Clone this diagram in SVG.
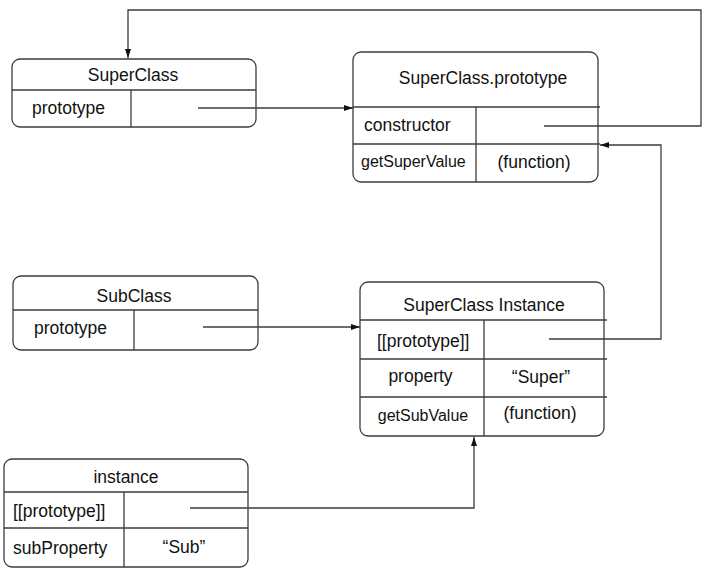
<svg xmlns="http://www.w3.org/2000/svg" width="719" height="579" viewBox="0 0 719 579">
<style>
.box{fill:#fff;stroke:#3c3c3c;stroke-width:1.3}
.div{stroke:#3c3c3c;stroke-width:1.3;fill:none}
.con{stroke:#3c3c3c;stroke-width:1.3;fill:none;marker-end:url(#ah)}
text{font-family:"Liberation Sans",Arial,sans-serif;font-size:17.5px;fill:#111}
.s{font-size:16px}
.c{text-anchor:middle}
</style>
<defs>
<marker id="ah" viewBox="0 0 9 6" refX="9" refY="3" markerWidth="9" markerHeight="6" markerUnits="userSpaceOnUse" orient="auto">
<path d="M0,0 L9,3 L0,6 z" fill="#111"/>
</marker>
</defs>
<rect width="719" height="579" fill="#fff"/>

<g id="superclass">
<rect class="box" x="12" y="59" width="244" height="68" rx="8"/>
<path class="div" d="M12 90 H256 M131 90 V127"/>
<text class="c" x="133" y="81">SuperClass</text>
<text x="32" y="113.5">prototype</text>
</g>

<g id="superclass-prototype">
<rect class="box" x="353" y="52" width="245" height="130" rx="8"/>
<path class="div" d="M353 107 H600 M353 144 H600 M476 107 V182"/>
<text class="c" x="483" y="84">SuperClass.prototype</text>
<text x="364" y="131">constructor</text>
<text class="s" x="361" y="167">getSuperValue</text>
<text class="c" x="534" y="167.5">(function)</text>
</g>

<g id="subclass">
<rect class="box" x="13" y="276" width="245" height="74" rx="8"/>
<path class="div" d="M13 310 H258 M134 310 V350"/>
<text class="c" x="134" y="301.5">SubClass</text>
<text x="34" y="334">prototype</text>
</g>

<g id="superclass-instance">
<rect class="box" x="360" y="282" width="244" height="154" rx="8"/>
<path class="div" d="M360 320 H607 M360 359 H607 M360 397 H607 M484 320 V436"/>
<text class="c" x="484" y="310.5">SuperClass Instance</text>
<text x="377" y="347">[[prototype]]</text>
<text class="c" x="420.5" y="382">property</text>
<text class="c" x="541" y="383">“Super”</text>
<text class="c s" x="423" y="420.5">getSubValue</text>
<text class="c" x="540" y="418.5">(function)</text>
</g>

<g id="instance">
<rect class="box" x="4" y="459" width="244" height="108" rx="8"/>
<path class="div" d="M4 492 H248 M4 528 H248 M124 492 V567"/>
<text class="c" x="126" y="483">instance</text>
<text x="13" y="517">[[prototype]]</text>
<text x="13" y="554">subProperty</text>
<text class="c" x="184" y="552.5">“Sub”</text>
</g>

<g id="connectors">
<path class="con" d="M544 126 H701 V10 H128 V58"/>
<path class="con" d="M198 108 H353"/>
<path class="con" d="M203 327 H360"/>
<path class="con" d="M549 339 H661 V145 H600"/>
<path class="con" d="M190 508 H474 V437"/>
</g>
</svg>
